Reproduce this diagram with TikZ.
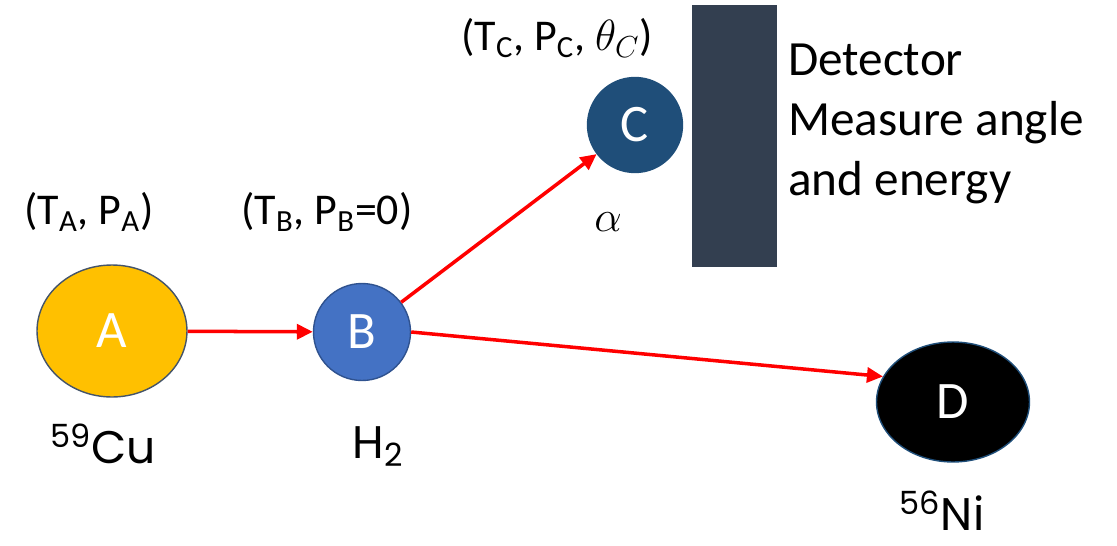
\documentclass[tikz,border=0pt]{standalone}
\usepackage{fontspec}
\setmainfont{Carlito}
\newfontfamily\isofont{Poppins}
\usetikzlibrary{arrows.meta, shapes.geometric}
\usepackage{xcolor}
\definecolor{gold}{HTML}{FFC000}
\definecolor{goldedge}{HTML}{44546A}
\definecolor{bblue}{HTML}{4472C4}
\definecolor{bedge}{HTML}{2F528F}
\definecolor{cblue}{HTML}{1F4E79}
\definecolor{slate}{HTML}{333F50}
\definecolor{ray}{HTML}{FF0000}

\begin{document}
\begin{tikzpicture}[x=0.02cm, y=-0.02cm,
      ball/.style={draw, line width=0.8pt, text=white, inner sep=0pt, font=\fontsize{30}{30}\selectfont},
      link/.style={draw=ray, line width=2pt, -{Triangle[length=0.32cm, width=0.3cm]}},
      state/.style={font=\fontsize{25}{28}\selectfont},
      iso/.style={anchor=base, inner sep=1pt, font=\isofont\fontsize{26}{30}\selectfont}
    ]
      \useasboundingbox (0,0) rectangle (1117,545);
      \node[ball, ellipse, fill=gold, draw=goldedge, minimum width=3cm, minimum height=2.64cm] (A) at (112,331) {A};
      \node[ball, circle, fill=bblue, draw=bedge, minimum size=1.94cm] (B) at (362,332) {B};
      \node[ball, circle, fill=cblue, draw=cblue, minimum size=1.9cm] (C) at (635,125) {C};
      \node[ball, ellipse, fill=black, draw=cblue, minimum width=3.06cm, minimum height=2.4cm] (D) at (953,402) {D};
      \node[fill=slate, inner sep=0pt, minimum width=1.7cm, minimum height=5.24cm] (det) at (734.5,136) {};
      % labels
      \node[state] (stA) at (89,212) {(T\textsubscript{A}, P\textsubscript{A})};
      \node[state] (stB) at (327,212) {(T\textsubscript{B}, P\textsubscript{B}=0)};
      \node[state] (stC) at (557,38) {(T\textsubscript{C}, P\textsubscript{C}, $\theta_C$)};
      \node[font=\fontsize{30}{30}\selectfont] (alpha) at (608,222) {$\alpha$};
      \node[anchor=north west, align=left, font=\fontsize{28}{34}\selectfont] (dettxt) at (782,38) {Detector\\Measure angle\\and energy};
      \node[iso] (cu) at (103,463) {\textsuperscript{59}Cu};
      \node[iso] (h2) at (378,458) {H\textsubscript{2}};
      \node[iso] (ni) at (942,530) {\textsuperscript{56}Ni};
      % reaction
      \draw[link] (A) -- (B);
      \draw[link] (B) -- (C);
      \draw[link] (B.east) -- (D.160);
    \end{tikzpicture}
\end{document}
